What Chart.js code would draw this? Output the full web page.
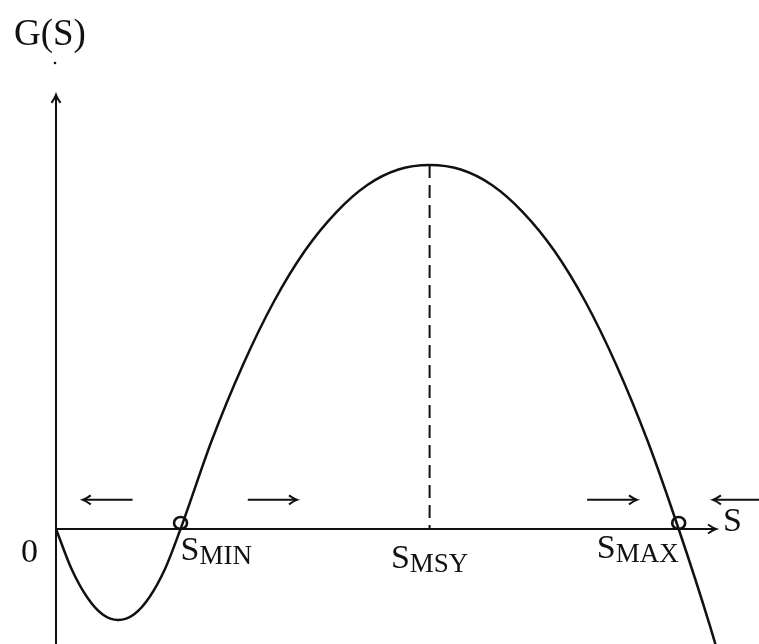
<!DOCTYPE html>
<html>
<head>
<meta charset="utf-8">
<script src="https://cdn.jsdelivr.net/npm/chart.js@4.4.1/dist/chart.umd.min.js"></script>
<style>
  body { margin: 0; background: #fff; }
  #wrap { width: 759px; height: 644px; }
</style>
</head>
<body>
<div id="wrap"><canvas id="growthChart" width="759" height="644"></canvas></div>
<script>
// stock size S and growth G(S)
const stock = [0, 0.25, 0.5, 0.75, 1, 1.25, 1.5, 1.75, 2, 2.5, 3, 3.5, 4, 4.5, 5, 5.5, 6,
               6.5, 7, 7.5, 8, 8.5, 9, 9.5, 10, 10.5, 11];
const growth = [0, -0.44, -0.75, -0.94, -1.0, -0.94, -0.75, -0.44, 0, 0.97, 1.8, 2.5, 3.06, 3.48, 3.78, 3.95, 4.0,
                3.95, 3.78, 3.48, 3.06, 2.5, 1.8, 0.97, 0, -1.06, -2.25];

// named points on the S axis
const pointLabels = ['MIN', 'MSY', 'MAX'];
const pointStock = [2, 6, 10];
const equilibria = [2, 10];

// direction arrows just above the axis: [tail, head] in S units
const flowArrows = [[1.23, 0.43], [3.08, 3.87], [8.53, 9.33], [11.4, 10.55]];
const flowLevel = 0.32;

const axisEnd = { x: 10.6, y: 4.77 };

const serif = '"Liberation Serif", "DejaVu Serif", serif';

function arrowHead(ctx, x, y, dir) {
  // dir: angle the tip points to
  ctx.save();
  ctx.translate(x, y);
  ctx.rotate(dir);
  ctx.beginPath();
  ctx.moveTo(-8, -4.5);
  ctx.quadraticCurveTo(-3, -1, 0, 0);
  ctx.quadraticCurveTo(-3, 1, -8, 4.5);
  ctx.stroke();
  ctx.restore();
}

const sketch = {
  id: 'sketch',
  beforeDatasetsDraw(chart) {
    const ctx = chart.ctx;
    const xs = chart.scales.x, ys = chart.scales.y;
    const x0 = xs.getPixelForValue(0), y0 = ys.getPixelForValue(0);
    ctx.save();
    ctx.strokeStyle = '#111';
    ctx.lineWidth = 2;
    // S axis
    const xe = xs.getPixelForValue(axisEnd.x);
    ctx.beginPath(); ctx.moveTo(x0, y0); ctx.lineTo(xe, y0); ctx.stroke();
    arrowHead(ctx, xe, y0, 0);
    // G axis
    const ye = ys.getPixelForValue(axisEnd.y);
    ctx.beginPath(); ctx.moveTo(x0, chart.height); ctx.lineTo(x0, ye); ctx.stroke();
    arrowHead(ctx, x0, ye, -Math.PI / 2);

    // dashed line at maximum sustainable yield
    const peak = Math.max(...growth);
    const sPeak = stock[growth.indexOf(peak)];
    ctx.setLineDash([13, 7]);
    ctx.beginPath();
    ctx.moveTo(xs.getPixelForValue(sPeak), ys.getPixelForValue(peak));
    ctx.lineTo(xs.getPixelForValue(sPeak), y0);
    ctx.stroke();
    ctx.setLineDash([]);

    // flow arrows
    const ya = ys.getPixelForValue(flowLevel);
    flowArrows.forEach(([a, b]) => {
      const pa = xs.getPixelForValue(a), pb = xs.getPixelForValue(b);
      ctx.beginPath(); ctx.moveTo(pa, ya); ctx.lineTo(pb, ya); ctx.stroke();
      arrowHead(ctx, pb, ya, pb > pa ? 0 : Math.PI);
    });
    ctx.restore();
  },
  afterDraw(chart) {
    const ctx = chart.ctx;
    const xs = chart.scales.x, ys = chart.scales.y;
    const x0 = xs.getPixelForValue(0), y0 = ys.getPixelForValue(0);
    ctx.save();
    ctx.fillStyle = '#111';
    ctx.strokeStyle = '#111';
    ctx.textBaseline = 'alphabetic';

    ctx.font = '37px ' + serif;
    ctx.textAlign = 'left';
    ctx.fillText('G(S)', 14, 45);
    ctx.beginPath(); ctx.arc(x0 - 1, 63, 1.3, 0, Math.PI * 2); ctx.fill();

    ctx.font = '34px ' + serif;
    ctx.fillText('0', x0 - 35, y0 + 33);
    ctx.fillText('S', xs.getPixelForValue(axisEnd.x) + 7, y0 + 2);

    // equilibrium markers
    ctx.lineWidth = 2.6;
    equilibria.forEach(s => {
      ctx.beginPath();
      ctx.ellipse(xs.getPixelForValue(s), y0 - 6, 6.5, 6, 0, 0, Math.PI * 2);
      ctx.stroke();
    });

    // subscripted labels
    const align = ['left', 'center', 'right'];
    const drop = [31, 39, 29];
    pointLabels.forEach((lab, i) => {
      ctx.font = '34px ' + serif;
      const wS = ctx.measureText('S').width;
      ctx.font = '27px ' + serif;
      const wSub = ctx.measureText(lab).width;
      const total = wS + wSub;
      let left = xs.getPixelForValue(pointStock[i]);
      if (align[i] === 'center') left -= total / 2;
      if (align[i] === 'right') left -= total;
      const base = y0 + drop[i];
      ctx.textAlign = 'left';
      ctx.font = '34px ' + serif;
      ctx.fillText('S', left, base);
      ctx.font = '27px ' + serif;
      ctx.fillText(lab, left + wS, base + 4);
    });
    ctx.restore();
  }
};

new Chart(document.getElementById('growthChart'), {
  type: 'line',
  data: {
    datasets: [{
      data: stock.map((s, i) => ({ x: s, y: growth[i] })),
      borderColor: '#111',
      borderWidth: 2.5,
      pointRadius: 0,
      cubicInterpolationMode: 'monotone',
      fill: false
    }]
  },
  options: {
    responsive: false,
    animation: false,
    layout: { padding: { left: 56, right: 0, top: 0, bottom: 0 } },
    plugins: { legend: { display: false }, tooltip: { enabled: false } },
    scales: {
      x: { type: 'linear', min: 0, max: 11.29, display: false },
      y: { type: 'linear', min: -1.264, max: 5.813, display: false }
    }
  },
  plugins: [sketch]
});
</script>
</body>
</html>
